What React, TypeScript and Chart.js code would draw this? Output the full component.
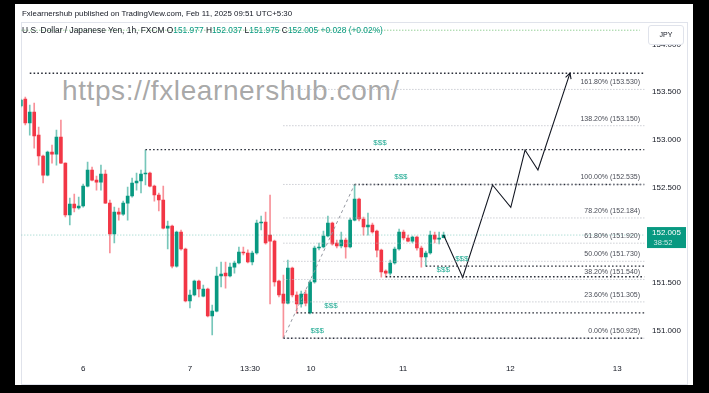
import React, { useEffect, useRef } from 'react';
import { Chart, registerables } from 'chart.js';

Chart.register(...registerables);

// ---------- data ----------
const firstBarIndex = -1;
const opens = [
  153.356, 153.429, 153.178, 153.293, 153.052, 152.833, 152.633, 152.874, 152.853, 153.031,
  152.759, 152.215, 152.330, 152.288, 152.309, 152.518, 152.686, 152.581, 152.560, 152.644,
  152.340, 152.016, 152.246, 152.225, 152.340, 152.414, 152.550, 152.571, 152.644, 152.654,
  152.518, 152.424, 152.372, 152.078, 152.099, 151.680, 152.037, 151.859, 151.314, 151.377,
  151.524, 151.365, 151.440, 151.157, 151.209, 151.576, 151.607, 151.576, 151.670, 151.712,
  151.827, 151.817, 151.723, 151.817, 152.131, 152.141, 152.005, 151.942, 151.524, 151.388,
  151.293, 151.660, 151.377, 151.283, 151.388, 151.190, 151.513, 151.869, 151.880, 151.995,
  152.131, 151.922, 151.890, 151.953, 151.880, 152.162, 152.382, 152.173, 152.089, 152.110,
  152.047, 151.848, 151.628, 151.607, 151.712, 151.859, 152.037, 151.974, 151.942, 151.984,
  151.869, 151.775, 151.817, 152.005, 151.963, 151.977,
];
const highs = [
  153.430, 153.450, 153.367, 153.387, 153.136, 152.843, 152.885, 152.948, 153.105, 153.210,
  152.762, 152.393, 152.435, 152.403, 152.539, 152.770, 152.717, 152.623, 152.738, 152.686,
  152.372, 152.298, 152.288, 152.360, 152.508, 152.602, 152.654, 152.686, 152.895, 152.665,
  152.529, 152.445, 152.518, 152.152, 152.110, 152.047, 152.058, 151.869, 151.429, 151.534,
  151.534, 151.482, 151.450, 151.272, 151.670, 151.723, 151.723, 151.712, 151.733, 151.880,
  151.880, 151.850, 151.838, 152.162, 152.204, 152.246, 152.424, 151.953, 151.534, 151.586,
  151.743, 151.670, 151.410, 151.419, 151.430, 151.534, 151.890, 151.922, 152.047, 152.204,
  152.141, 151.953, 152.037, 151.974, 152.183, 152.535, 152.393, 152.194, 152.236, 152.131,
  152.058, 151.859, 151.640, 151.743, 151.880, 152.068, 152.058, 152.005, 151.995, 151.995,
  151.890, 151.838, 152.047, 152.037, 152.037, 152.037,
];
const lows = [
  153.345, 153.157, 153.052, 152.916, 152.738, 152.550, 152.623, 152.759, 152.738, 152.755,
  152.194, 152.110, 152.246, 152.277, 152.298, 152.508, 152.571, 152.476, 152.476, 152.335,
  151.817, 151.922, 152.162, 152.210, 152.162, 152.403, 152.476, 152.445, 152.529, 152.508,
  152.361, 152.257, 152.068, 151.859, 151.660, 151.670, 151.848, 151.304, 151.241, 151.367,
  151.356, 151.356, 151.147, 150.958, 151.199, 151.461, 151.450, 151.566, 151.607, 151.702,
  151.796, 151.712, 151.691, 151.806, 152.058, 151.910, 151.283, 151.471, 151.356, 150.925,
  151.283, 151.356, 151.188, 151.251, 151.262, 151.180, 151.500, 151.850, 151.870, 151.985,
  151.900, 151.869, 151.869, 151.764, 151.869, 152.152, 152.152, 152.005, 152.005, 152.026,
  151.775, 151.565, 151.565, 151.586, 151.700, 151.848, 151.953, 151.932, 151.922, 151.848,
  151.670, 151.680, 151.806, 151.922, 151.911, 151.975,
];
const closes = [
  153.419, 153.178, 153.293, 153.042, 152.833, 152.633, 152.874, 152.853, 153.031, 152.759,
  152.215, 152.330, 152.288, 152.309, 152.518, 152.686, 152.581, 152.560, 152.644, 152.340,
  152.016, 152.246, 152.225, 152.340, 152.414, 152.550, 152.571, 152.644, 152.654, 152.518,
  152.424, 152.372, 152.078, 152.099, 151.680, 152.037, 151.859, 151.314, 151.377, 151.524,
  151.440, 151.440, 151.157, 151.209, 151.576, 151.597, 151.576, 151.670, 151.712, 151.827,
  151.817, 151.723, 151.817, 152.131, 152.141, 151.922, 151.942, 151.513, 151.377, 151.293,
  151.660, 151.377, 151.283, 151.388, 151.293, 151.513, 151.869, 151.880, 151.995, 152.131,
  151.911, 151.890, 151.953, 151.880, 152.162, 152.382, 152.173, 152.089, 152.110, 152.037,
  151.848, 151.618, 151.607, 151.712, 151.859, 152.037, 151.974, 151.942, 151.984, 151.869,
  151.775, 151.817, 152.005, 151.963, 151.974, 152.005,
];

const xTickValues = [13, 37, 50.5, 64.2, 84.9, 109, 133];
const xTickLabels = ['6', '7', '13:30', '10', '11', '12', '13'];
const yTickValues = [151, 151.5, 152, 152.5, 153, 153.5, 154];

const fibRatios = [0, 0.236, 0.382, 0.5, 0.618, 0.782, 1, 1.382, 1.618];
const fibPrices = [150.925, 151.305, 151.54, 151.73, 151.92, 152.184, 152.535, 153.15, 153.53];
const fibStartIndex = 58;
const fibHighIndex = 74;

const liquidityPrices = [152.9, 152.535, 151.68, 151.569, 151.19, 150.925];
const liquidityStartIndex = [27, 74, 90, 81, 61, 58];
const liquidityLabelIndex = [79.7, 84.4, 98.1, 93.9, 68.7, 65.6];

const targetPrice = 153.7;
const targetStartIndex = 1;
const alertPrice = 154.15;

const projectionIndex = [94, 98.3, 105, 109.1, 112.3, 115.2, 122.4];
const projectionPrice = [152.005, 151.562, 152.529, 152.295, 152.895, 152.686, 153.7];

const lastPrice = 152.005;
const countdown = '38:52';

// ---------- scale range ----------
const X_MIN = -0.9;
const X_MAX = 139.26;
const LINE_END = 139.1;
const Y_MIN = 150.749;
const Y_MAX = 154.236;

const UP = '#089981';
const DOWN = '#f23645';
const UP_WICK = 'rgba(8,153,129,0.55)';
const DOWN_WICK = 'rgba(242,54,69,0.55)';
const FONT = '"Liberation Sans", Arial, sans-serif';

const hLine = (price: number, from: number, to: number, color: string, width: number, dash: number[]) => ({
  type: 'line' as const,
  data: [
    { x: from, y: price },
    { x: to, y: price },
  ],
  borderColor: color,
  borderWidth: width,
  borderDash: dash,
  pointRadius: 0,
  fill: false,
  order: 0,
  clip: 0,
});

const annotPlugin = {
  id: 'annot',
  afterDatasetsDraw(chart: any) {
    const { ctx, chartArea } = chart;
    const x = chart.scales.x;
    const y = chart.scales.y;
    ctx.save();
    ctx.font = `7px ${FONT}`;
    ctx.fillStyle = '#4a4d57';
    ctx.textAlign = 'right';
    ctx.textBaseline = 'alphabetic';
    fibRatios.forEach((r, i) => {
      const py = y.getPixelForValue(fibPrices[i]);
      ctx.fillText(`${(r * 100).toFixed(2)}% (${fibPrices[i].toFixed(3)})`, chartArea.right - 5, py - 5);
    });
    ctx.font = `8px ${FONT}`;
    ctx.fillStyle = '#22ab94';
    ctx.textAlign = 'center';
    liquidityPrices.forEach((p, i) => {
      const py = y.getPixelForValue(p);
      ctx.fillText('$$$', x.getPixelForValue(liquidityLabelIndex[i]), py - 5);
    });
    const n = projectionIndex.length;
    const ax = x.getPixelForValue(projectionIndex[n - 1]);
    const ay = y.getPixelForValue(projectionPrice[n - 1]);
    const bx = x.getPixelForValue(projectionIndex[n - 2]);
    const by = y.getPixelForValue(projectionPrice[n - 2]);
    const ang = Math.atan2(ay - by, ax - bx);
    ctx.strokeStyle = '#131722';
    ctx.lineWidth = 1.1;
    ctx.beginPath();
    ctx.moveTo(ax - 6 * Math.cos(ang - 0.5), ay - 6 * Math.sin(ang - 0.5));
    ctx.lineTo(ax, ay);
    ctx.lineTo(ax - 6 * Math.cos(ang + 0.5), ay - 6 * Math.sin(ang + 0.5));
    ctx.stroke();
    ctx.restore();
  },
  afterDraw(chart: any) {
    const { ctx, chartArea } = chart;
    const y = chart.scales.y;
    const py = y.getPixelForValue(lastPrice);
    ctx.save();
    ctx.fillStyle = UP;
    ctx.fillRect(chartArea.right + 2, py - 8, 39, 21);
    ctx.fillStyle = '#ffffff';
    ctx.textAlign = 'center';
    ctx.textBaseline = 'middle';
    ctx.font = `8px ${FONT}`;
    ctx.fillText(lastPrice.toFixed(3), chartArea.right + 21.5, py - 2.5);
    ctx.fillStyle = 'rgba(255,255,255,0.8)';
    ctx.font = `7.5px ${FONT}`;
    ctx.fillText(countdown, chartArea.right + 18, py + 7.5);
    ctx.restore();
  },
};

export default function App() {
  const ref = useRef<HTMLCanvasElement>(null);

  useEffect(() => {
    const idx = opens.map((_, i) => firstBarIndex + i);
    const up = opens.map((o, i) => closes[i] >= o);

    const datasets: any[] = [];
    fibPrices.forEach((p) => datasets.push(hLine(p, fibStartIndex, LINE_END, '#b2b5be', 1, [1, 2])));
    liquidityPrices.forEach((p, i) =>
      datasets.push(hLine(p, liquidityStartIndex[i], LINE_END, '#2a2e39', 1.4, [1.6, 2.2]))
    );
    datasets.push(hLine(targetPrice, targetStartIndex, LINE_END, '#2a2e39', 1.4, [1.6, 2.2]));
    datasets.push(hLine(alertPrice, X_MIN, 138.1, '#66bb6a', 1, [1, 2]));
    datasets.push(hLine(lastPrice, X_MIN, X_MAX, 'rgba(8,153,129,0.45)', 1, [1, 2]));
    datasets.push({
      type: 'line',
      data: [
        { x: fibStartIndex, y: fibPrices[0] },
        { x: fibHighIndex, y: fibPrices[6] },
      ],
      borderColor: '#9598a1',
      borderWidth: 1,
      borderDash: [3, 3],
      pointRadius: 0,
      order: 0,
      clip: 0,
    });
    datasets.push({
      type: 'line',
      data: projectionIndex.map((v, i) => ({ x: v, y: projectionPrice[i] })),
      borderColor: '#131722',
      borderWidth: 1.1,
      pointRadius: 0,
      tension: 0,
      order: 0,
      clip: 0,
    });
    datasets.push({
      type: 'bar',
      data: idx.map((v, i) => ({ x: v, y: [lows[i], highs[i]] })),
      backgroundColor: up.map((u) => (u ? UP_WICK : DOWN_WICK)),
      barThickness: 1,
      grouped: false,
      order: 3,
      clip: 0,
    });
    datasets.push({
      type: 'bar',
      data: idx.map((v, i) => ({ x: v, y: [opens[i], closes[i]] })),
      backgroundColor: up.map((u) => (u ? UP : DOWN)),
      barThickness: 3,
      minBarLength: 1,
      grouped: false,
      order: 2,
      clip: 0,
    });

    const chart = new Chart(ref.current as HTMLCanvasElement, {
      type: 'bar',
      data: { datasets },
      options: {
        animation: false,
        responsive: false,
        devicePixelRatio: 1,
        events: [],
        layout: { padding: { left: 21.3, top: 22, right: 22, bottom: 9 } },
        plugins: { legend: { display: false }, tooltip: { enabled: false } },
        scales: {
          x: {
            type: 'linear',
            min: X_MIN,
            max: X_MAX,
            offset: false,
            grid: { display: false, drawTicks: false },
            border: { display: false },
            afterBuildTicks: (s: any) => {
              s.ticks = xTickValues.map((v) => ({ value: v }));
            },
            afterFit: (s: any) => {
              s.height = 29;
            },
            ticks: {
              autoSkip: false,
              maxRotation: 0,
              padding: 9,
              color: '#131722',
              font: { size: 8, family: FONT },
              callback: (_v: any, i: number) => xTickLabels[i],
            },
          },
          y: {
            type: 'linear',
            position: 'right',
            min: Y_MIN,
            max: Y_MAX,
            grid: { display: false, drawTicks: false },
            border: { display: false },
            afterBuildTicks: (s: any) => {
              s.ticks = yTickValues.map((v) => ({ value: v }));
            },
            afterFit: (s: any) => {
              s.width = 42;
            },
            ticks: {
              padding: 7,
              color: '#131722',
              font: { size: 8, family: FONT },
              callback: (v: any) => Number(v).toFixed(3),
            },
          },
        },
      } as any,
      plugins: [annotPlugin],
    });
    return () => chart.destroy();
  }, []);

  const green = { color: UP };
  return (
    <div
      style={{
        position: 'fixed',
        left: 0,
        top: 0,
        width: 709,
        height: 393,
        background: '#000',
        overflow: 'hidden',
        fontFamily: FONT,
      }}
    >
      <div style={{ position: 'absolute', left: 15, top: 4, width: 678, height: 381, background: '#fff' }} />
      <div
        style={{
          position: 'absolute',
          left: 21,
          top: 22,
          width: 665,
          height: 361,
          border: '1px solid #e0e3eb',
        }}
      />
      <div
        style={{
          position: 'absolute',
          left: 62,
          top: 75,
          fontSize: 28,
          lineHeight: '32px',
          letterSpacing: '0.6px',
          color: 'rgba(130,130,130,0.7)',
          whiteSpace: 'nowrap',
        }}
      >
        https://fxlearnershub.com/
      </div>
      <canvas ref={ref} width={709} height={393} style={{ position: 'absolute', left: 0, top: 0 }} />
      <div
        style={{
          position: 'absolute',
          left: 22,
          top: 9,
          fontSize: 7.9,
          lineHeight: '10px',
          color: '#131722',
          whiteSpace: 'nowrap',
        }}
      >
        Fxlearnershub published on TradingView.com, Feb 11, 2025 09:51 UTC+5:30
      </div>
      <div
        style={{
          position: 'absolute',
          left: 22,
          top: 25,
          fontSize: 8.4,
          lineHeight: '10px',
          color: '#131722',
          whiteSpace: 'nowrap',
        }}
      >
        U.S. Dollar / Japanese Yen, 1h, FXCM O<span style={green}>151.977</span> H
        <span style={green}>152.037</span> L<span style={green}>151.975</span> C
        <span style={green}>152.005</span> <span style={green}>+0.028 (+0.02%)</span>
      </div>
      <div
        style={{
          position: 'absolute',
          left: 648,
          top: 25,
          width: 34,
          height: 18,
          border: '1px solid #e0e3eb',
          borderRadius: 3,
          background: '#fff',
          fontSize: 7,
          lineHeight: '18px',
          textAlign: 'center',
          color: '#131722',
        }}
      >
        JPY
      </div>
    </div>
  );
}
